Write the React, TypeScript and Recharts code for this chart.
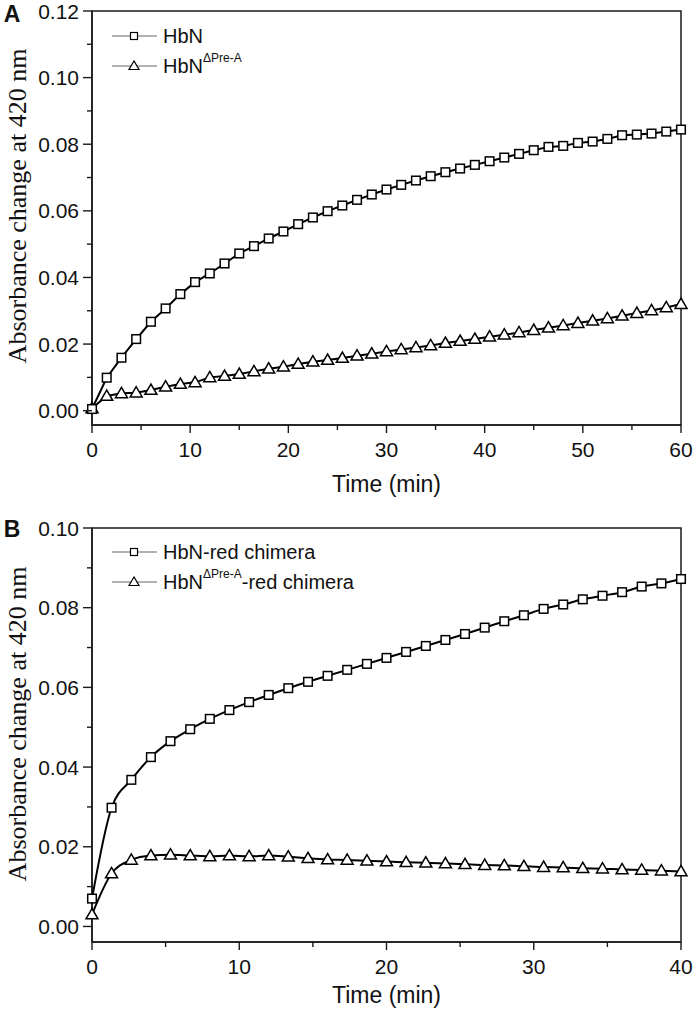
import React from 'react';
import { LineChart, Line, XAxis, YAxis, ReferenceArea } from 'recharts';

// ---------- Panel A data ----------
const timeA = [0, 1.5, 3, 4.5, 6, 7.5, 9, 10.5, 12, 13.5, 15, 16.5, 18, 19.5, 21, 22.5, 24, 25.5, 27, 28.5, 30, 31.5, 33, 34.5, 36, 37.5, 39, 40.5, 42, 43.5, 45, 46.5, 48, 49.5, 51, 52.5, 54, 55.5, 57, 58.5, 60];
const hbnA = [0.0005, 0.0099, 0.0159, 0.0215, 0.0267, 0.0307, 0.035, 0.0386, 0.0412, 0.0442, 0.0472, 0.0494, 0.0517, 0.0538, 0.056, 0.058, 0.0599, 0.0616, 0.0633, 0.0649, 0.0664, 0.0678, 0.0691, 0.0704, 0.0716, 0.0727, 0.0738, 0.0749, 0.076, 0.0771, 0.0782, 0.0792, 0.0795, 0.0804, 0.0808, 0.0816, 0.0827, 0.0829, 0.0832, 0.0838, 0.0844];
const hbnDeltaA = [0.0007, 0.0044, 0.0052, 0.0054, 0.0062, 0.0072, 0.008, 0.0085, 0.01, 0.0104, 0.011, 0.0118, 0.0126, 0.0132, 0.014, 0.0147, 0.0152, 0.0158, 0.0165, 0.0171, 0.0178, 0.0184, 0.019, 0.0196, 0.0203, 0.0209, 0.0215, 0.0222, 0.0228, 0.0235, 0.0242, 0.0249, 0.0256, 0.0263, 0.027, 0.0277, 0.0285, 0.0293, 0.0301, 0.031, 0.032];
const xTicksA = [0, 5, 10, 15, 20, 25, 30, 35, 40, 45, 50, 55, 60];
const yTicksA = [0, 0.01, 0.02, 0.03, 0.04, 0.05, 0.06, 0.07, 0.08, 0.09, 0.1, 0.11, 0.12];

// ---------- Panel B data ----------
const timeB = [0, 1.33, 2.67, 4, 5.33, 6.67, 8, 9.33, 10.67, 12, 13.33, 14.67, 16, 17.33, 18.67, 20, 21.33, 22.67, 24, 25.33, 26.67, 28, 29.33, 30.67, 32, 33.33, 34.67, 36, 37.33, 38.67, 40];
const hbnRedB = [0.007, 0.0298, 0.0368, 0.0425, 0.0465, 0.0495, 0.0521, 0.0543, 0.0563, 0.0581, 0.0598, 0.0614, 0.0629, 0.0644, 0.0659, 0.0674, 0.0689, 0.0704, 0.0719, 0.0734, 0.075, 0.0766, 0.0781, 0.0797, 0.0808, 0.0821, 0.083, 0.0839, 0.0853, 0.0861, 0.0872];
const hbnDeltaRedB = [0.003, 0.0133, 0.0167, 0.0178, 0.018, 0.0178, 0.0176, 0.0178, 0.0176, 0.0178, 0.0175, 0.0171, 0.0168, 0.0167, 0.0165, 0.0163, 0.0161, 0.016, 0.0158, 0.0156, 0.0154, 0.0153, 0.0151, 0.0149, 0.0148, 0.0146, 0.0145, 0.0143, 0.0142, 0.014, 0.0138];
const xTicksB = [0, 5, 10, 15, 20, 25, 30, 35, 40];
const yTicksB = [0, 0.01, 0.02, 0.03, 0.04, 0.05, 0.06, 0.07, 0.08, 0.09, 0.1];

const dataA = timeA.map((t, i) => ({ t, a: hbnA[i], b: hbnDeltaA[i] }));
const dataB = timeB.map((t, i) => ({ t, a: hbnRedB[i], b: hbnDeltaRedB[i] }));

const SANS = '"Liberation Sans", Arial, sans-serif';
const SERIF = '"Liberation Serif", "Times New Roman", serif';
const AX = '#1a1a1a';

const XTick = (props: any) => {
  const { x, y, payload } = props;
  const v = payload.value;
  const major = Math.round(v) % 10 === 0;
  return (
    <g>
      <line x1={x} x2={x} y1={y} y2={y + (major ? 8 : 5)} stroke={AX} strokeWidth={1.4} />
      {major && (
        <text x={x} y={y + 24} textAnchor="middle" dominantBaseline="central" fontSize={21} fontFamily={SANS} fill="#111">
          {v}
        </text>
      )}
    </g>
  );
};

const YTick = (props: any) => {
  const { x, y, payload } = props;
  const v = payload.value;
  const major = Math.round(v * 100) % 2 === 0;
  return (
    <g>
      <line x1={x} x2={x - (major ? 9 : 5)} y1={y} y2={y} stroke={AX} strokeWidth={1.4} />
      {major && (
        <text x={x - 13} y={y} textAnchor="end" dominantBaseline="central" fontSize={21} fontFamily={SANS} fill="#111">
          {v.toFixed(2)}
        </text>
      )}
    </g>
  );
};

const squareDot = (props: any) => {
  const { cx, cy, index } = props;
  return <rect key={'s' + index} x={cx - 4.3} y={cy - 4.3} width={8.6} height={8.6} fill="#fff" stroke="#000" strokeWidth={1.5} />;
};
const triDot = (props: any) => {
  const { cx, cy, index } = props;
  return (
    <polygon
      key={'t' + index}
      points={`${cx},${cy - 6} ${cx - 6},${cy + 4.3} ${cx + 6},${cy + 4.3}`}
      fill="#fff"
      stroke="#000"
      strokeWidth={1.5}
    />
  );
};

type PanelProps = {
  data: any[];
  xMax: number;
  yMin: number;
  yMax: number;
  xTicks: number[];
  yTicks: number[];
  height: number;
  top: number;
  axisHeight: number;
  labelOffset: number;
  curve: 'linear' | 'monotone';
};

const Panel = ({ data, xMax, yMin, yMax, xTicks, yTicks, height, top, axisHeight, labelOffset, curve }: PanelProps) => (
  <LineChart width={693} height={height} data={data} margin={{ top, right: 12, left: 0, bottom: 0 }}>
    <XAxis
      dataKey="t"
      type="number"
      domain={[0, xMax]}
      ticks={xTicks}
      interval={0}
      height={axisHeight}
      tickLine={false}
      tickSize={0}
      tickMargin={0}
      axisLine={{ stroke: AX, strokeWidth: 1.5 }}
      tick={<XTick />}
      label={{ value: 'Time (min)', position: 'insideBottom', offset: labelOffset, fontSize: 23, fontFamily: SANS, fill: '#111' }}
    />
    <YAxis
      type="number"
      domain={[yMin, yMax]}
      ticks={yTicks}
      interval={0}
      width={92}
      tickLine={false}
      tickSize={0}
      tickMargin={0}
      axisLine={{ stroke: AX, strokeWidth: 1.5 }}
      tick={<YTick />}
      allowDataOverflow
    />
    <ReferenceArea x1={0} x2={xMax} y1={yMin} y2={yMax} fill="none" stroke={AX} strokeWidth={1.5} ifOverflow="visible" />
    <Line type={curve} dataKey="b" stroke="#000" strokeWidth={2} dot={triDot} isAnimationActive={false} />
    <Line type={curve} dataKey="a" stroke="#000" strokeWidth={2} dot={squareDot} isAnimationActive={false} />
  </LineChart>
);

const LegendRow = ({ y, marker, children }: { y: number; marker: 'sq' | 'tri'; children: React.ReactNode }) => (
  <g>
    <line x1={112} x2={157} y1={y} y2={y} stroke="#666" strokeWidth={1.2} />
    {marker === 'sq' ? (
      <rect x={130.5} y={y - 3.5} width={7} height={7} fill="#fff" stroke="#000" strokeWidth={1.2} />
    ) : (
      <polygon points={`134,${y - 5} ${129},${y + 3.5} ${139},${y + 3.5}`} fill="#fff" stroke="#000" strokeWidth={1.2} />
    )}
    <text x={163} y={y} dominantBaseline="central" fontSize={20} fontFamily={SANS} fill="#111">
      {children}
    </text>
  </g>
);

export default function App() {
  return (
    <div style={{ position: 'absolute', left: 0, top: 0, width: 693, height: 1012, background: '#fff', overflow: 'hidden' }}>
      <div style={{ position: 'absolute', left: 0, top: 0 }}>
        <Panel data={dataA} xMax={60} yMin={-0.0043} yMax={0.12} xTicks={xTicksA} yTicks={yTicksA} height={500} top={11} axisHeight={75} labelOffset={8} curve="linear" />
      </div>
      <div style={{ position: 'absolute', left: 0, top: 480 }}>
        <Panel data={dataB} xMax={40} yMin={-0.0039} yMax={0.1} xTicks={xTicksB} yTicks={yTicksB} height={532} top={48} axisHeight={70} labelOffset={9} curve="monotone" />
      </div>
      <svg width={693} height={1012} style={{ position: 'absolute', left: 0, top: 0, pointerEvents: 'none' }}>
        <text x={12} y={14} textAnchor="middle" dominantBaseline="central" fontSize={23} fontWeight="bold" fontFamily={SANS} fill="#111">A</text>
        <text x={12} y={529} textAnchor="middle" dominantBaseline="central" fontSize={23} fontWeight="bold" fontFamily={SANS} fill="#111">B</text>
        <text x={17} y={206} transform="rotate(-90 17 206)" textAnchor="middle" dominantBaseline="central" fontSize={26} fontFamily={SERIF} fill="#111">
          Absorbance change at 420 nm
        </text>
        <text x={17} y={724} transform="rotate(-90 17 724)" textAnchor="middle" dominantBaseline="central" fontSize={26} fontFamily={SERIF} fill="#111">
          Absorbance change at 420 nm
        </text>
        <LegendRow y={36} marker="sq">HbN</LegendRow>
        <LegendRow y={66} marker="tri">
          HbN<tspan fontSize={12} dy={-8}>ΔPre-A</tspan>
        </LegendRow>
        <LegendRow y={552} marker="sq">HbN-red chimera</LegendRow>
        <LegendRow y={582} marker="tri">
          HbN<tspan fontSize={12} dy={-8}>ΔPre-A</tspan>
          <tspan dy={8}>-red chimera</tspan>
        </LegendRow>
      </svg>
    </div>
  );
}
